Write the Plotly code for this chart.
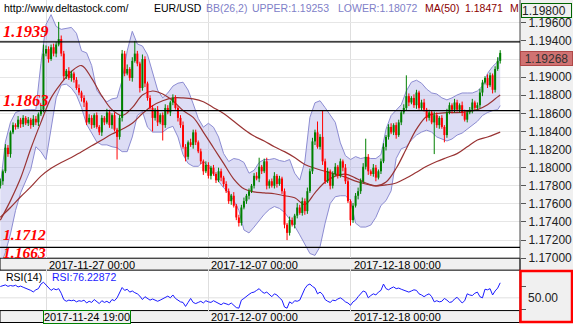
import plotly.graph_objects as go

# ---------------- data ----------------
START_DAY = -2.25      # first candle, trading days relative to 2017-11-27 00:00
STEP = 0.125           # 3-hour candles
FIRST_OPEN = 1.1780
PIP = 0.0001

CLOSE = [1.1785, 1.1796, 1.1822, 1.1815, 1.1839, 1.1847, 1.1845, 1.1853, 1.1848, 1.1855,
         1.1849, 1.1853, 1.1847, 1.1854, 1.1850, 1.1859, 1.1864, 1.1926, 1.1931, 1.1920,
         1.1933, 1.1926, 1.1936, 1.1942, 1.1926, 1.1901, 1.1907, 1.1899, 1.1904, 1.1897,
         1.1888, 1.1883, 1.1877, 1.1872, 1.1850, 1.1855, 1.1847, 1.1858, 1.1845, 1.1839,
         1.1855, 1.1850, 1.1861, 1.1847, 1.1858, 1.1842, 1.1834, 1.1855, 1.1926, 1.1904,
         1.1909, 1.1899, 1.1918, 1.1926, 1.1915, 1.1888, 1.1920, 1.1893, 1.1877, 1.1866,
         1.1855, 1.1864, 1.1850, 1.1858, 1.1847, 1.1866, 1.1861, 1.1872, 1.1877, 1.1866,
         1.1855, 1.1847, 1.1823, 1.1812, 1.1828, 1.1825, 1.1839, 1.1828, 1.1818, 1.1807,
         1.1796, 1.1803, 1.1791, 1.1800, 1.1793, 1.1786, 1.1796, 1.1789, 1.1782, 1.1774,
         1.1763, 1.1769, 1.1758, 1.1745, 1.1739, 1.1756, 1.1763, 1.1769, 1.1774, 1.1780,
         1.1791, 1.1788, 1.1801, 1.1796, 1.1807, 1.1780, 1.1785, 1.1780, 1.1791, 1.1782,
         1.1788, 1.1774, 1.1737, 1.1728, 1.1742, 1.1737, 1.1747, 1.1756, 1.1750, 1.1763,
         1.1752, 1.1774, 1.1796, 1.1829, 1.1839, 1.1823, 1.1834, 1.1807, 1.1785, 1.1796,
         1.1780, 1.1793, 1.1801, 1.1791, 1.1807, 1.1800, 1.1785, 1.1763, 1.1742, 1.1758,
         1.1769, 1.1774, 1.1785, 1.1801, 1.1812, 1.1796, 1.1793, 1.1800, 1.1789, 1.1796,
         1.1807, 1.1823, 1.1834, 1.1845, 1.1839, 1.1847, 1.1836, 1.1850, 1.1861, 1.1866,
         1.1879, 1.1872, 1.1877, 1.1869, 1.1883, 1.1866, 1.1872, 1.1864, 1.1855, 1.1861,
         1.1850, 1.1858, 1.1847, 1.1855, 1.1845, 1.1836, 1.1861, 1.1869, 1.1864, 1.1872,
         1.1864, 1.1869, 1.1861, 1.1853, 1.1861, 1.1864, 1.1872, 1.1866, 1.1869, 1.1883,
         1.1894, 1.1899, 1.1891, 1.1902, 1.1886, 1.1909, 1.1918, 1.19268]

UP_WICK = [3, 2, 4, 3, 2, 3, 2, 4, 2, 3, 2, 3, 2, 4, 3, 2, 5, 10, 4, 3,
           3, 4, 3, 19, 4, 3, 2, 4, 3, 2, 3, 4, 2, 3, 2, 4, 3, 2, 3, 2,
           3, 2, 4, 3, 2, 3, 2, 3, 4, 3, 5, 2, 4, 14, 3, 2, 5, 3, 2, 3,
           3, 2, 4, 2, 3, 4, 3, 2, 4, 3, 2, 3, 4, 3, 2, 4, 3, 3, 2, 3,
           2, 4, 3, 2, 3, 2, 4, 3, 2, 3, 3, 2, 4, 2, 3, 3, 4, 2, 3, 2,
           3, 4, 10, 2, 3, 4, 2, 3, 4, 2, 3, 2, 3, 2, 4, 3, 2, 5, 3, 4,
           3, 4, 3, 4, 3, 12, 3, 29, 3, 4, 2, 3, 4, 2, 3, 2, 4, 3, 2, 3,
           3, 4, 3, 4, 20, 3, 2, 4, 3, 2, 3, 4, 2, 3, 4, 2, 3, 3, 2, 4,
           23, 3, 2, 4, 3, 2, 3, 4, 2, 3, 2, 4, 3, 2, 3, 2, 4, 3, 2, 4,
           3, 2, 4, 3, 2, 3, 4, 2, 3, 4, 3, 2, 4, 3, 2, 3, 4, 3]

DN_WICK = [3, 4, 2, 3, 4, 2, 3, 2, 4, 3, 2, 3, 4, 2, 3, 4, 2, 3, 3, 4,
           2, 3, 4, 2, 3, 4, 3, 2, 4, 3, 2, 3, 4, 5, 3, 2, 4, 3, 2, 3,
           4, 3, 2, 3, 4, 2, 25, 3, 4, 3, 2, 3, 4, 2, 3, 5, 3, 4, 3, 2,
           15, 3, 4, 2, 17, 3, 2, 4, 3, 2, 4, 3, 2, 5, 3, 2, 4, 3, 2, 3,
           4, 2, 3, 4, 2, 3, 2, 4, 3, 2, 3, 4, 2, 3, 4, 3, 2, 3, 4, 2,
           3, 2, 4, 3, 2, 4, 3, 2, 3, 4, 2, 3, 4, 8, 3, 2, 4, 3, 2, 3,
           4, 3, 2, 3, 4, 2, 3, 4, 3, 2, 4, 3, 2, 3, 2, 4, 3, 2, 6, 3,
           2, 4, 3, 2, 3, 4, 2, 3, 4, 2, 3, 2, 4, 3, 2, 3, 4, 2, 3, 2,
           3, 4, 2, 3, 4, 2, 3, 2, 4, 3, 2, 35, 3, 4, 2, 8, 3, 2, 4, 3,
           2, 3, 4, 2, 3, 2, 4, 3, 2, 3, 4, 2, 3, 2, 4, 3, 2, 3]

# Bollinger bands (26,2), sampled every 2nd candle plus the last one
BAND_EVERY = 2
BB_UPPER = [1.17798, 1.18285, 1.18501, 1.18609, 1.18631, 1.18641, 1.18641, 1.18641, 1.19149, 1.19582,
            1.19690, 1.19560, 1.19528, 1.19539, 1.19549, 1.19484, 1.19290, 1.19268, 1.19128, 1.18857,
            1.18782, 1.18728, 1.18760, 1.18771, 1.18966, 1.19290, 1.19506, 1.19366, 1.19344, 1.19247,
            1.19052, 1.18857, 1.18771, 1.18825, 1.18901, 1.18933, 1.18944, 1.18857, 1.18706, 1.18544,
            1.18447, 1.18490, 1.18447, 1.18339, 1.18155, 1.18068, 1.18101, 1.18090, 1.18058, 1.17939,
            1.17971, 1.18058, 1.18090, 1.18090, 1.18101, 1.18079, 1.18068, 1.18090, 1.17939, 1.17863,
            1.18068, 1.18555, 1.18717, 1.18739, 1.18663, 1.18587, 1.18501, 1.18274, 1.18133, 1.18090,
            1.18122, 1.18101, 1.18112, 1.18101, 1.18101, 1.18144, 1.18425, 1.18576, 1.18641, 1.18695,
            1.18847, 1.18944, 1.18966, 1.18933, 1.18868, 1.18825, 1.18814, 1.18771, 1.18749, 1.18771,
            1.18803, 1.18825, 1.18825, 1.18825, 1.18847, 1.18901, 1.19041, 1.19117, 1.19171, 1.19253]
BB_LOWER = [1.16912, 1.17063, 1.17268, 1.17528, 1.17722, 1.17852, 1.17982, 1.18231, 1.18177, 1.18090,
            1.18447, 1.18771, 1.18912, 1.18923, 1.18879, 1.18803, 1.18663, 1.18479, 1.18382, 1.18285,
            1.18252, 1.18252, 1.18231, 1.18220, 1.18177, 1.18177, 1.18339, 1.18576, 1.18620, 1.18447,
            1.18393, 1.18393, 1.18393, 1.18436, 1.18457, 1.18339, 1.18144, 1.18047, 1.18015, 1.18015,
            1.18068, 1.18015, 1.17928, 1.17852, 1.17777, 1.17722, 1.17636, 1.17528, 1.17312, 1.17279,
            1.17344, 1.17420, 1.17485, 1.17539, 1.17571, 1.17550, 1.17506, 1.17431, 1.17355, 1.17258,
            1.17150, 1.17052, 1.17031, 1.17128, 1.17387, 1.17604, 1.17679, 1.17690, 1.17690, 1.17636,
            1.17387, 1.17344, 1.17344, 1.17366, 1.17452, 1.17582, 1.17636, 1.17744, 1.18101, 1.18209,
            1.18231, 1.18306, 1.18360, 1.18393, 1.18414, 1.18393, 1.18339, 1.18317, 1.18295, 1.18317,
            1.18360, 1.18382, 1.18425, 1.18468, 1.18512, 1.18576, 1.18609, 1.18630, 1.18641, 1.18685]

# moving averages, sampled every 4th candle plus the last one
MA_EVERY = 4
MA_FAST = [1.17420, 1.17636, 1.17885, 1.18209, 1.18500, 1.18771, 1.18933, 1.19063, 1.19128, 1.18987,
           1.18793, 1.18641, 1.18576, 1.18663, 1.18803, 1.18847, 1.18814, 1.18739, 1.18631, 1.18555,
           1.18393, 1.18220, 1.18047, 1.17874, 1.17766, 1.17733, 1.17722, 1.17712, 1.17690, 1.17668,
           1.17593, 1.17722, 1.17841, 1.17906, 1.17928, 1.17885, 1.17831, 1.17798, 1.17841, 1.17993,
           1.18209, 1.18425, 1.18566, 1.18598, 1.18609, 1.18609, 1.18620, 1.18641, 1.18695, 1.18782,
           1.18803]
MA_SLOW = [1.17452, 1.17560, 1.17679, 1.17787, 1.17906, 1.17993, 1.18058, 1.18112, 1.18177, 1.18241,
           1.18306, 1.18371, 1.18425, 1.18490, 1.18598, 1.18685, 1.18739, 1.18771, 1.18771, 1.18760,
           1.18728, 1.18663, 1.18598, 1.18512, 1.18425, 1.18349, 1.18295, 1.18231, 1.18177, 1.18112,
           1.18036, 1.17993, 1.17960, 1.17928, 1.17895, 1.17852, 1.17820, 1.17798, 1.17809, 1.17831,
           1.17885, 1.17950, 1.18015, 1.18068, 1.18112, 1.18155, 1.18231, 1.18306, 1.18339, 1.18382,
           1.18393]

RSI = [69.8, 71, 72.5, 70, 71.5, 70.5, 72, 69, 70.5, 68.5, 67, 65, 63, 60.3, 64, 66, 74, 77.3, 72, 68,
       63, 66, 64, 66, 58, 47, 44, 46, 45, 46, 43, 45, 44, 46, 41, 44, 42, 47, 43, 40,
       45, 42, 44, 41, 47, 45, 50, 58, 68, 63, 65, 60, 62, 59, 57, 53, 47, 52, 49, 46,
       48, 46, 44, 46, 48, 51, 53, 50, 55, 49, 46, 43, 42, 35, 42, 49, 42, 40, 42, 44,
       41, 45, 43, 42, 45, 43, 40, 38, 41, 39, 38, 41, 37, 33, 32, 46, 49, 53, 56, 59,
       60, 63, 66, 61, 58, 60, 56, 52, 57, 55, 50, 46, 34, 32, 43, 40, 45, 44, 46, 55,
       66, 72, 74, 70, 67, 57, 60, 56, 47, 44, 42, 46, 45, 48, 50, 47, 43, 41, 37, 43,
       46, 52, 58, 62, 60, 50, 54, 57, 55, 60, 63, 74, 66, 64, 67, 69, 66, 67, 65, 63,
       61, 60, 62, 64, 63, 57, 55, 52, 55, 57, 52, 43, 45, 43, 44, 49, 46, 42, 43, 48,
       51, 45, 41, 45, 57, 55, 54, 58, 60, 52, 50, 65, 64, 66, 55, 62, 67, 76.2]

LEVELS = [1.1939, 1.1863, 1.1712]
LEVEL_LABELS = ["1.1939", "1.1863", "1.1712", "1.1663"]
PRICE_TICKS = [1.170, 1.172, 1.174, 1.176, 1.178, 1.180, 1.182, 1.184, 1.186, 1.188,
               1.190, 1.192, 1.194, 1.196]
PRICE_TICK_TEXT = ["1.17000", "1.17200", "1.17400", "1.17600", "1.17800", "1.18000", "1.18200",
                   "1.18400", "1.18600", "1.18800", "1.19000", "", "1.19400", "1.19600"]
DATE_POS = [0, 8, 15]
DATE_TEXT = ["2017-11-27 00:00", "2017-12-07 00:00", "2017-12-18 00:00"]
CURSOR_TEXT = "2017-11-24 19:00"
LAST_PRICE = "1.19268"
TOP_PRICE = "1.19800"

# ---------------- build ----------------
W, H = 573, 330
PLOT_R = 520


def fx(px):
    return px / W


def fy(py):
    return (H - py) / H


n = len(CLOSE)
xs = [START_DAY + i * STEP for i in range(n)]
opens = [FIRST_OPEN] + CLOSE[:-1]
highs = [max(o, c) + u * PIP for o, c, u in zip(opens, CLOSE, UP_WICK)]
lows = [min(o, c) - d * PIP for o, c, d in zip(opens, CLOSE, DN_WICK)]

band_idx = list(range(0, n - 1, BAND_EVERY)) + [n - 1]
ma_idx = list(range(0, n - 1, MA_EVERY)) + [n - 1]
band_x = [xs[i] for i in band_idx]
ma_x = [xs[i] for i in ma_idx]

GREEN = "#008000"
RED = "#ff0000"

fig = go.Figure()

fig.add_trace(go.Scatter(x=band_x, y=BB_LOWER, mode="lines",
                         line=dict(color="#8c8cd2", width=1), hoverinfo="skip"))
fig.add_trace(go.Scatter(x=band_x, y=BB_UPPER, mode="lines", fill="tonexty",
                         fillcolor="rgba(165,165,228,0.38)",
                         line=dict(color="#8c8cd2", width=1), hoverinfo="skip"))
fig.add_trace(go.Scatter(x=ma_x, y=MA_SLOW, mode="lines", line_shape="spline",
                         line=dict(color="#993333", width=1.2), hoverinfo="skip"))
fig.add_trace(go.Scatter(x=ma_x, y=MA_FAST, mode="lines", line_shape="spline",
                         line=dict(color="#993333", width=1.2), hoverinfo="skip"))

for color, up in ((GREEN, True), (RED, False)):
    wx, wy, bx, by = [], [], [], []
    for x, o, c, hi, lo in zip(xs, opens, CLOSE, highs, lows):
        if (c >= o) != up:
            continue
        wx += [x, x, None]
        wy += [lo, hi, None]
        top, bot = max(o, c), min(o, c)
        if top - bot < 0.00003:
            top = bot + 0.00003
        bx += [x, x, None]
        by += [bot, top, None]
    fig.add_trace(go.Scatter(x=wx, y=wy, mode="lines", line=dict(color=color, width=1),
                             hoverinfo="skip"))
    fig.add_trace(go.Scatter(x=bx, y=by, mode="lines", line=dict(color=color, width=2),
                             hoverinfo="skip"))

fig.add_trace(go.Scatter(x=xs, y=RSI, mode="lines", xaxis="x2", yaxis="y2",
                         line=dict(color="#1a1aff", width=1), hoverinfo="skip"))

xr = [(0 - 46) / 20.3, (PLOT_R - 46) / 20.3]

shapes = []
# right axis background
shapes.append(dict(type="rect", xref="paper", yref="paper", x0=fx(PLOT_R), x1=1, y0=0, y1=1,
                   fillcolor="#f0f0f0", line=dict(width=0), layer="below"))
shapes.append(dict(type="line", xref="paper", yref="paper", x0=fx(PLOT_R), x1=fx(PLOT_R),
                   y0=0, y1=1, line=dict(color="#444", width=1)))
# date strips
shapes.append(dict(type="rect", xref="paper", yref="paper", x0=0, x1=fx(PLOT_R),
                   y0=fy(276), y1=fy(263.8), fillcolor="#f0f0f0",
                   line=dict(color="#000", width=1), layer="below"))
shapes.append(dict(type="rect", xref="paper", yref="paper", x0=0, x1=fx(PLOT_R),
                   y0=fy(329.5), y1=fy(317.3), fillcolor="#f0f0f0",
                   line=dict(color="#000", width=1), layer="below"))
# level lines
for lv in LEVELS:
    shapes.append(dict(type="line", xref="paper", yref="y", x0=0, x1=fx(PLOT_R), y0=lv, y1=lv,
                       line=dict(color="#000", width=1.4)))
# rsi 50 line
shapes.append(dict(type="line", xref="paper", yref="y2", x0=0, x1=fx(PLOT_R), y0=50, y1=50,
                   line=dict(color="#e0e0e0", width=1), layer="below"))
# rsi red box on axis
shapes.append(dict(type="rect", xref="paper", yref="paper", x0=fx(PLOT_R + 0.5), x1=fx(572),
                   y0=fy(329), y1=fy(277), line=dict(color="#ff0000", width=2.5)))

ann = []
HF = "Liberation Sans"


def txt(s, px, py, color, size=10.5, **kw):
    ann.append(dict(text=s, x=fx(px), y=fy(py), xref="paper", yref="paper",
                    xanchor="left", yanchor="middle", showarrow=False,
                    font=dict(family=HF, size=size, color=color), **kw))


txt("http://www.deltastock.com/", 2, 8, "#000")
txt("EUR/USD", 152, 8, "#000")
txt("BB(26,2)", 204, 8, "#8080c8")
txt("UPPER:1.19253", 250, 8, "#8080c8")
txt("LOWER:1.18072", 336, 8, "#8080c8")
txt("MA(50)", 423, 8, "#8b0000")
txt("1.18471", 463, 8, "#8b0000")
txt("M", 508, 8, "#8b0000")

for s, py, sz in zip(LEVEL_LABELS, [32, 103, 239.5, 257.5], [16.5, 16.5, 15.5, 15.5]):
    ann.append(dict(text="<b><i>" + s + "</i></b>", x=fx(2), y=fy(py), xref="paper",
                    yref="paper", xanchor="left", yanchor="middle", showarrow=False,
                    borderpad=0,
                    font=dict(family="Liberation Serif", size=sz, color="#ff0000")))

for s, d in zip(DATE_TEXT, DATE_POS):
    ann.append(dict(text=s, x=d, y=fy(270.3), xref="x", yref="paper", xanchor="left",
                    yanchor="middle", xshift=1, showarrow=False,
                    font=dict(family=HF, size=11, color="#000")))
for s, d in zip(DATE_TEXT[1:], DATE_POS[1:]):
    ann.append(dict(text=s, x=d, y=fy(323.5), xref="x", yref="paper", xanchor="left",
                    yanchor="middle", xshift=1, showarrow=False,
                    font=dict(family=HF, size=11, color="#000")))
ann.append(dict(text=CURSOR_TEXT, x=fx(43), y=fy(323.5), xref="paper", yref="paper",
                xanchor="left", yanchor="middle", showarrow=False, bgcolor="#f0f0f0",
                bordercolor="#008000", borderwidth=1, borderpad=0,
                font=dict(family=HF, size=11, color="#000")))

txt("RSI(14)", 4, 283, "#000")
txt("RSI:76.22872", 50, 283, "#1a1aff")

ann.append(dict(text=TOP_PRICE, x=fx(PLOT_R + 1), y=fy(11), xref="paper", yref="paper",
                xanchor="left", yanchor="middle", showarrow=False, width=49, height=13,
                align="left", bgcolor="#f0f0f0", bordercolor="#006400", borderwidth=1,
                borderpad=0, font=dict(family=HF, size=12, color="#222")))
ann.append(dict(text=LAST_PRICE, x=fx(PLOT_R), y=fy(59.5), xref="paper", yref="paper",
                xanchor="left", yanchor="middle", showarrow=False, width=51, height=13,
                align="center", bgcolor="#d07272", bordercolor="#b04848", borderwidth=1,
                borderpad=0, font=dict(family=HF, size=12, color="#333")))
ann.append(dict(text="50.00", x=fx(PLOT_R + 6), y=fy(304.5), xref="paper", yref="paper",
                xanchor="left", yanchor="middle", showarrow=False,
                font=dict(family=HF, size=12, color="#222")))

fig.update_layout(
    width=W, height=H, margin=dict(l=0, r=0, t=0, b=0),
    paper_bgcolor="#ffffff", plot_bgcolor="#ffffff", showlegend=False,
    xaxis=dict(domain=[0, fx(PLOT_R)], range=xr, tickvals=DATE_POS, showticklabels=False,
               showgrid=True, gridcolor="#dedede", zeroline=False, showline=False,
               ticks="", anchor="y", fixedrange=True),
    xaxis2=dict(domain=[0, fx(PLOT_R)], range=xr, tickvals=DATE_POS, showticklabels=False,
                showgrid=True, gridcolor="#dedede", zeroline=False, showline=False,
                ticks="", anchor="y2", matches="x"),
    yaxis=dict(domain=[fy(263.8), 1], range=[1.17, 1.19852], side="right",
               tickvals=PRICE_TICKS, ticktext=PRICE_TICK_TEXT, ticks="outside", ticklen=5,
               tickcolor="#555", showgrid=True, gridcolor="#e6e6e6", zeroline=False,
               showline=False, tickfont=dict(family=HF, size=12, color="#222"), anchor="x"),
    yaxis2=dict(domain=[fy(317.3), fy(275)], range=[27.8, 100], side="right",
                tickvals=[30, 70], ticktext=["", ""], ticks="outside", ticklen=5,
                tickcolor="#555", showgrid=False, zeroline=False, showline=False,
                anchor="x2"),
    shapes=shapes, annotations=ann,
)

fig.write_html("out.html")
